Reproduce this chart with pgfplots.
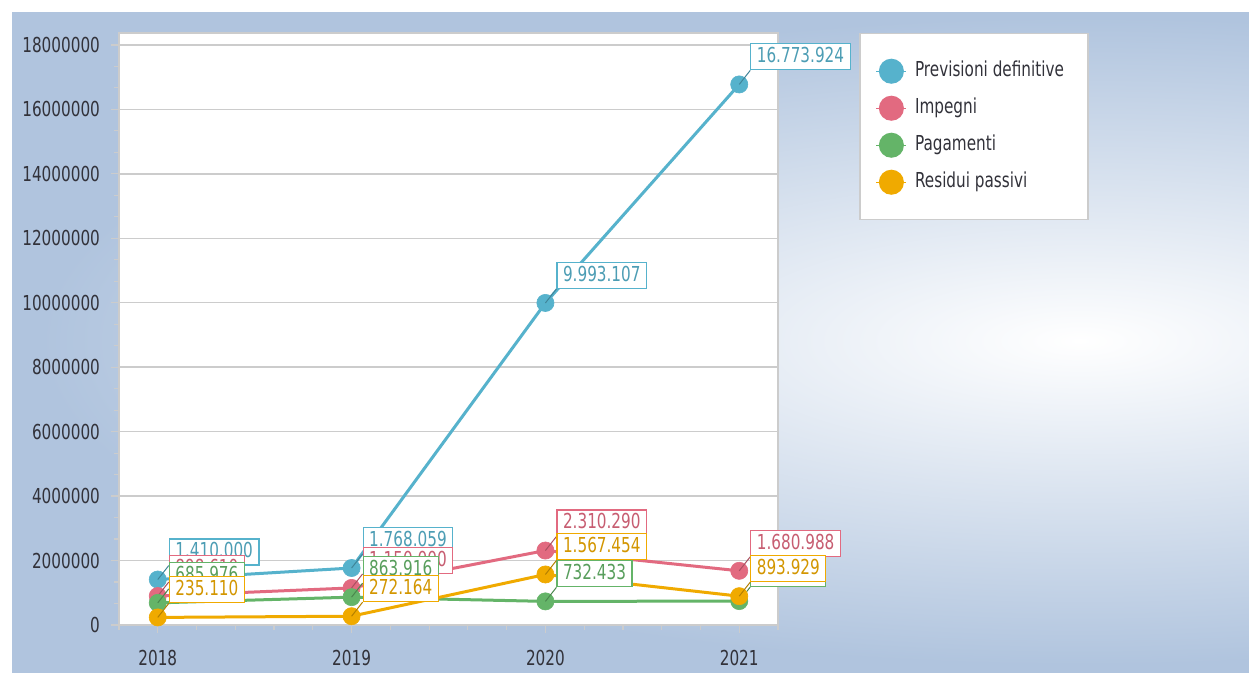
\documentclass[border=0pt]{standalone}
\usepackage{pgfplots}
\pgfplotsset{compat=1.18}
\usepackage{pgfplotstable}
\usepackage{fontspec}
\setmainfont{DejaVu Sans}[FakeStretch=0.74]
\definecolor{cBlue}{RGB}{86,178,204}
\definecolor{cRed}{RGB}{226,106,128}
\definecolor{cGreen}{RGB}{100,180,104}
\definecolor{cYel}{RGB}{240,170,0}
\definecolor{bgblue}{RGB}{176,196,222}
\definecolor{gridgray}{RGB}{204,204,204}
\definecolor{txtgray}{RGB}{50,50,58}

\pgfplotstableread{
x y label
0 1410000 1.410.000
1 1768059 1.768.059
2 9993107 9.993.107
3 16773924 16.773.924
}\tabPrev
\pgfplotstableread{
x y label
0 898610 898.610
1 1150000 1.150.000
2 2310290 2.310.290
3 1680988 1.680.988
}\tabImp
\pgfplotstableread{
x y label
0 685976 685.976
1 863916 863.916
2 732433 732.433
3 741385 741.385
}\tabPag
\pgfplotstableread{
x y label
0 235110 235.110
1 272164 272.164
2 1567454 1.567.454
3 893929 893.929
}\tabRes

\tikzset{lab/.style={draw=#1, fill=white, text=#1!88!black, line width=0.6pt,
  inner xsep=3pt, inner ysep=1.5pt, text height=8pt, text depth=2pt,
  font=\fontsize{10.3}{12}\selectfont,
  append after command={(\tikzlastnode.south west) edge[draw=#1!75!black, line width=0.5pt] ++(-5.5pt,-7pt)}}}

\begin{document}
\begin{tikzpicture}
\fill[white] (0,0) rectangle (624.5pt,336.5pt);
\begin{scope}
\clip (6pt,0pt) rectangle (624.5pt,330.5pt);
\fill[bgblue] (6pt,0pt) rectangle (624.5pt,330.5pt);
\shade[inner color=white, outer color=bgblue] (540pt,166pt) ellipse (520pt and 162pt);
\end{scope}
\begin{axis}[
  at={(59.5pt,24pt)}, anchor=south west,
  width=329.5pt, height=296pt, scale only axis,
  xmin=-0.2, xmax=3.2, ymin=0, ymax=18370000,
  axis background/.style={fill=white},
  xtick={0,1,2,3}, xticklabels={2018,2019,2020,2021},
  minor xtick={-0.2,0.2,0.4,0.6,0.8,1.2,1.4,1.6,1.8,2.2,2.4,2.6,2.8,3.2},
  scaled y ticks=false,
  ytick={0,2000000,4000000,6000000,8000000,10000000,12000000,14000000,16000000,18000000},
  yticklabels={0,2000000,4000000,6000000,8000000,10000000,12000000,14000000,16000000,18000000},
  minor y tick num=2,
  ymajorgrids, grid style={draw=gridgray, line width=0.75pt},
  tick align=outside, tick pos=left,
  major tick length=4pt, minor tick length=2.5pt,
  every tick/.style={draw=gridgray, line width=0.6pt},
  axis line style={draw=gridgray, line width=0.75pt},
  ticklabel style={font=\fontsize{10.3}{12}\selectfont, text=txtgray},
  xticklabel style={yshift=-5pt},
  yticklabel style={xshift=-2pt},
  nodes near coords align={anchor=south west},
  legend style={at={(1.123,1)}, anchor=north west, draw=gridgray, fill=white, line width=0.75pt,
    font=\fontsize{10.3}{12}\selectfont, text=txtgray, row sep=5pt,
    inner xsep=8pt, inner ysep=12pt,
    nodes={text height=8pt, text depth=2.5pt, inner ysep=1.5pt, inner xsep=4pt}},
  legend cell align=left,
  legend image code/.code={\draw[#1, line width=0.6pt] (0pt,0pt) -- (15pt,0pt); \fill[#1] (7.5pt,0pt) circle (5.5pt);},
  every axis plot/.append style={line width=1.5pt, mark=*, mark size=4.3pt},
]
\addplot[cBlue, mark options={fill=cBlue, draw=cBlue, line width=0.3pt},
  nodes near coords, point meta=explicit symbolic,
  every node near coord/.append style={lab=cBlue, xshift=5.5pt, yshift=7pt}]
  table[x=x,y=y,meta=label]{\tabPrev};
\addlegendentry{Previsioni definitive}
\addplot[cRed, mark options={fill=cRed, draw=cRed, line width=0.3pt},
  nodes near coords, point meta=explicit symbolic,
  every node near coord/.append style={lab=cRed, xshift=5.5pt, yshift=7pt}]
  table[x=x,y=y,meta=label]{\tabImp};
\addlegendentry{Impegni}
\addplot[cGreen, mark options={fill=cGreen, draw=cGreen, line width=0.3pt},
  nodes near coords, point meta=explicit symbolic,
  every node near coord/.append style={lab=cGreen, xshift=5.5pt, yshift=7pt}]
  table[x=x,y=y,meta=label]{\tabPag};
\addlegendentry{Pagamenti}
\addplot[cYel, mark options={fill=cYel, draw=cYel, line width=0.3pt},
  nodes near coords, point meta=explicit symbolic,
  every node near coord/.append style={lab=cYel, xshift=5.5pt, yshift=7pt}]
  table[x=x,y=y,meta=label]{\tabRes};
\addlegendentry{Residui passivi}
\end{axis}
\end{tikzpicture}
\end{document}
